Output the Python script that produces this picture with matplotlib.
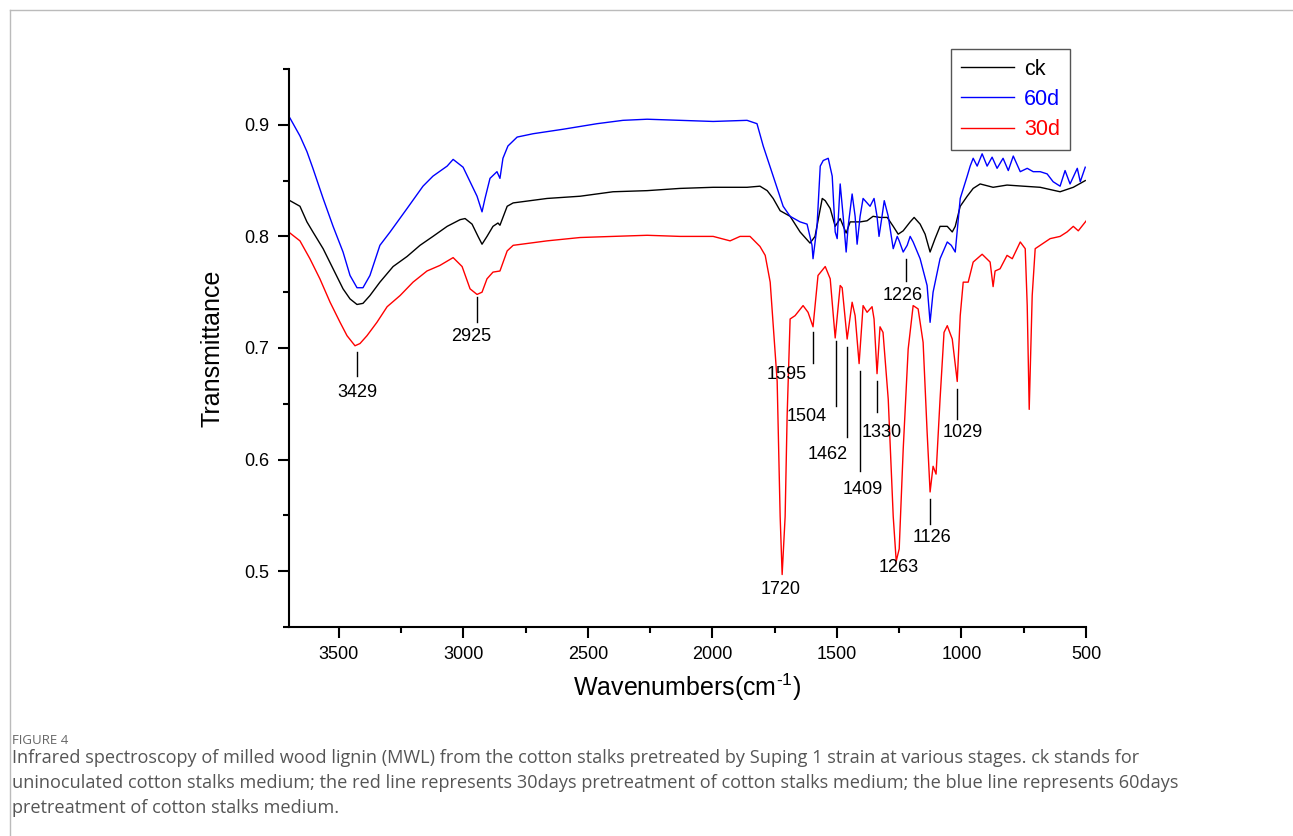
import matplotlib
matplotlib.use('Agg')
import matplotlib.pyplot as plt
from matplotlib.ticker import MultipleLocator

# FTIR spectra (wavenumber in cm-1, transmittance)
ck_wn = [3696, 3656, 3628, 3604, 3563, 3523, 3483, 3455, 3427, 3403,
         3375, 3335, 3282, 3226, 3174, 3122, 3065, 3013, 2993, 2965,
         2941, 2925, 2905, 2881, 2861, 2853, 2824, 2800, 2664, 2531,
         2399, 2262, 2130, 1997, 1861, 1809, 1780, 1756, 1728, 1688,
         1648, 1608, 1588, 1559, 1547, 1527, 1507, 1487, 1463, 1447,
         1407, 1379, 1355, 1327, 1298, 1274, 1254, 1234, 1206, 1190,
         1166, 1146, 1126, 1106, 1086, 1057, 1037, 1025, 1005, 977,
         953, 925, 873, 817, 752, 684, 604, 551, 503]
ck_tr = [0.832, 0.827, 0.813, 0.804, 0.789, 0.771, 0.753, 0.744, 0.739, 0.740,
         0.747, 0.759, 0.773, 0.782, 0.792, 0.800, 0.809, 0.815, 0.816, 0.811,
         0.800, 0.793, 0.800, 0.809, 0.812, 0.810, 0.827, 0.830, 0.834, 0.836,
         0.840, 0.841, 0.843, 0.844, 0.844, 0.845, 0.841, 0.834, 0.823, 0.818,
         0.804, 0.794, 0.800, 0.834, 0.832, 0.825, 0.809, 0.816, 0.803, 0.813,
         0.813, 0.814, 0.818, 0.817, 0.817, 0.809, 0.802, 0.805, 0.813, 0.817,
         0.811, 0.802, 0.786, 0.798, 0.809, 0.809, 0.804, 0.809, 0.827, 0.836,
         0.843, 0.847, 0.844, 0.846, 0.845, 0.844, 0.840, 0.844, 0.850]

d60_wn = [3696, 3656, 3628, 3604, 3563, 3523, 3483, 3455, 3427, 3403,
          3375, 3335, 3294, 3226, 3162, 3122, 3065, 3041, 3001, 2973,
          2945, 2925, 2913, 2893, 2865, 2853, 2841, 2821, 2784, 2720,
          2600, 2463, 2359, 2262, 2130, 1997, 1861, 1821, 1796, 1756,
          1716, 1688, 1648, 1620, 1600, 1596, 1580, 1567, 1555, 1535,
          1519, 1507, 1499, 1487, 1475, 1463, 1455, 1439, 1427, 1419,
          1407, 1395, 1367, 1351, 1339, 1331, 1319, 1310, 1294, 1274,
          1258, 1250, 1234, 1218, 1206, 1194, 1166, 1138, 1126, 1114,
          1086, 1057, 1041, 1025, 1005, 977, 965, 953, 937, 917,
          897, 877, 857, 833, 812, 792, 764, 736, 712, 684,
          656, 632, 604, 584, 564, 535, 523, 503]
d60_tr = [0.906, 0.890, 0.876, 0.861, 0.834, 0.809, 0.786, 0.765, 0.754, 0.754,
          0.765, 0.792, 0.804, 0.825, 0.845, 0.854, 0.863, 0.869, 0.862, 0.849,
          0.836, 0.822, 0.834, 0.852, 0.858, 0.852, 0.870, 0.881, 0.889, 0.892,
          0.896, 0.901, 0.904, 0.905, 0.904, 0.903, 0.904, 0.901, 0.881, 0.854,
          0.827, 0.818, 0.813, 0.811, 0.792, 0.780, 0.809, 0.863, 0.868, 0.870,
          0.854, 0.804, 0.798, 0.847, 0.818, 0.786, 0.809, 0.838, 0.818, 0.793,
          0.818, 0.834, 0.827, 0.834, 0.818, 0.800, 0.818, 0.832, 0.818, 0.789,
          0.800, 0.796, 0.786, 0.792, 0.800, 0.795, 0.780, 0.756, 0.723, 0.750,
          0.780, 0.795, 0.792, 0.786, 0.834, 0.854, 0.863, 0.870, 0.863, 0.874,
          0.863, 0.871, 0.861, 0.870, 0.859, 0.872, 0.858, 0.861, 0.858, 0.858,
          0.856, 0.849, 0.845, 0.859, 0.847, 0.861, 0.849, 0.862]

d30_wn = [3696, 3656, 3616, 3576, 3535, 3495, 3467, 3435, 3415, 3387,
          3347, 3306, 3254, 3202, 3146, 3094, 3041, 3005, 2973, 2945,
          2925, 2905, 2881, 2853, 2824, 2800, 2732, 2664, 2531, 2399,
          2262, 2130, 1997, 1929, 1889, 1849, 1809, 1788, 1768, 1740,
          1728, 1720, 1708, 1700, 1688, 1668, 1636, 1616, 1596, 1576,
          1547, 1527, 1507, 1487, 1479, 1459, 1439, 1427, 1411, 1395,
          1379, 1359, 1351, 1339, 1327, 1315, 1294, 1274, 1262, 1250,
          1234, 1214, 1194, 1174, 1154, 1138, 1126, 1114, 1102, 1086,
          1070, 1057, 1037, 1017, 1005, 993, 973, 953, 917, 885,
          873, 865, 845, 817, 796, 764, 744, 736, 728, 716,
          704, 684, 644, 604, 576, 551, 531, 499]
d30_tr = [0.803, 0.796, 0.780, 0.762, 0.741, 0.723, 0.711, 0.702, 0.704, 0.711,
          0.723, 0.737, 0.747, 0.759, 0.769, 0.774, 0.781, 0.773, 0.753, 0.748,
          0.750, 0.762, 0.768, 0.769, 0.787, 0.792, 0.794, 0.796, 0.799, 0.800,
          0.801, 0.800, 0.800, 0.796, 0.800, 0.800, 0.791, 0.783, 0.759, 0.670,
          0.549, 0.497, 0.549, 0.639, 0.726, 0.729, 0.738, 0.732, 0.719, 0.765,
          0.773, 0.762, 0.709, 0.756, 0.754, 0.708, 0.741, 0.729, 0.686, 0.738,
          0.732, 0.737, 0.726, 0.677, 0.719, 0.714, 0.654, 0.549, 0.509, 0.520,
          0.609, 0.699, 0.738, 0.735, 0.705, 0.625, 0.571, 0.594, 0.587, 0.654,
          0.714, 0.720, 0.708, 0.670, 0.729, 0.759, 0.759, 0.777, 0.784, 0.777,
          0.755, 0.769, 0.771, 0.783, 0.780, 0.795, 0.789, 0.738, 0.645, 0.747,
          0.789, 0.792, 0.798, 0.800, 0.804, 0.809, 0.805, 0.814]

# peak labels: text, marker position, marker line (top, bottom), text position
peak_labels = ['3429', '2925', '1226', '1595', '1504', '1462',
               '1409', '1330', '1029', '1126', '1263', '1720']
peak_pos = [3427, 2945, 1222, 1596, 1503, 1459, 1407, 1339, 1017, 1126, 1262, 1720]
line_top = [0.696, 0.746, 0.780, 0.714, 0.706, 0.701, 0.679, 0.670, 0.663, 0.565, None, None]
line_bot = [0.675, 0.723, 0.760, 0.687, 0.648, 0.620, 0.590, 0.643, 0.636, 0.542, None, None]
text_x = [3427, 2969, 1238, 1700, 1620, 1539, 1395, 1319, 993, 1118, 1254, 1728]
text_y = [0.6605, 0.7099, 0.7466, 0.6767, 0.639, 0.605, 0.5735, 0.6247, 0.6247, 0.5305, 0.5036, 0.4839]

caption = ("Infrared spectroscopy of milled wood lignin (MWL) from the cotton stalks pretreated by Suping 1 strain at various stages. ck stands for\n"
           "uninoculated cotton stalks medium; the red line represents 30days pretreatment of cotton stalks medium; the blue line represents 60days\n"
           "pretreatment of cotton stalks medium.")

plt.rcParams['font.family'] = ['Liberation Sans', 'DejaVu Sans']
plt.rcParams['mathtext.fontset'] = 'custom'
plt.rcParams['mathtext.rm'] = 'Liberation Sans'
plt.rcParams['mathtext.it'] = 'Liberation Sans'

fig = plt.figure(figsize=(12.93, 8.36), dpi=100)
ax = fig.add_axes([289 / 1293, 1 - 627 / 836, 797 / 1293, 558 / 836])

ax.plot(ck_wn, ck_tr, color='black', lw=1.0, label='ck')
ax.plot(d60_wn, d60_tr, color='#0000ff', lw=1.0, label='60d')
ax.plot(d30_wn, d30_tr, color='#ff0000', lw=1.0, label='30d')

for i, lab in enumerate(peak_labels):
    if line_top[i] is not None:
        ax.plot([peak_pos[i], peak_pos[i]], [line_bot[i], line_top[i]], color='black', lw=1.0)
    ax.text(text_x[i], text_y[i], lab, fontsize=13, ha='center', va='center')

ax.set_xlim(3700, 500)
ax.set_ylim(0.45, 0.95)
ax.xaxis.set_major_locator(MultipleLocator(500))
ax.xaxis.set_minor_locator(MultipleLocator(250))
ax.yaxis.set_major_locator(MultipleLocator(0.1))
ax.yaxis.set_minor_locator(MultipleLocator(0.05))
ax.spines['top'].set_visible(False)
ax.spines['right'].set_visible(False)
ax.spines['left'].set_linewidth(1.5)
ax.spines['bottom'].set_linewidth(1.5)
ax.tick_params(which='major', direction='out', length=8, width=1.5, labelsize=13, pad=6)
ax.tick_params(which='minor', direction='out', length=4.5, width=1.5)

ax.set_xlabel('Wavenumbers(cm$^{\u20101}$)', fontsize=18, labelpad=6)
ax.set_ylabel('Transmittance', fontsize=18, labelpad=14)

leg = ax.legend(loc='upper left', bbox_to_anchor=(0.8306, 1.0358), fontsize=15.5,
                fancybox=False, edgecolor='#555555', framealpha=1,
                handlelength=2.5, handletextpad=0.45, labelspacing=0.43,
                borderpad=0.45, borderaxespad=0)
leg.get_frame().set_linewidth(1.0)
for txt, ln in zip(leg.get_texts(), leg.get_lines()):
    txt.set_color(ln.get_color())

# page frame and caption
fig.add_artist(plt.Line2D([10 / 1293, 10 / 1293], [0, 1 - 10 / 836], color='#bbbbbb', lw=1))
fig.add_artist(plt.Line2D([10 / 1293, 1], [1 - 10 / 836, 1 - 10 / 836], color='#bbbbbb', lw=1))
fig.text(12 / 1293, 1 - 740 / 836, 'FIGURE 4', fontsize=9.5, color='#666666',
         family=['Open Sans', 'DejaVu Sans'], va='center')
fig.text(12 / 1293, 1 - 749 / 836, caption, fontsize=13.1, color='#555555',
         family=['Open Sans', 'DejaVu Sans'], va='top', linespacing=1.5)

fig.savefig('out.png', dpi=100)
